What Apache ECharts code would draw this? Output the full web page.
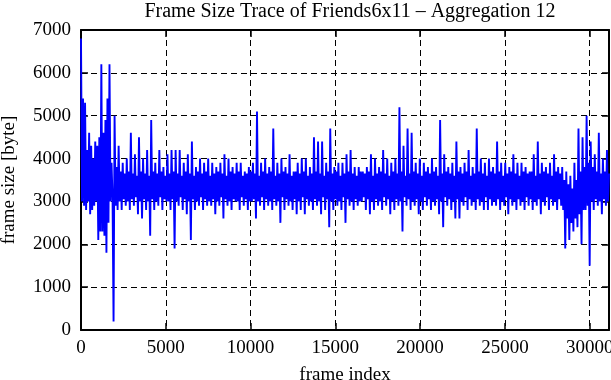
<!DOCTYPE html>
<html>
<head>
<meta charset="utf-8">
<script src="https://cdn.jsdelivr.net/npm/echarts@6/dist/echarts.min.js"></script>
<style>
  html, body { margin: 0; padding: 0; background: #fff; }
  #main { width: 611px; height: 380px; }
</style>
</head>
<body>
<div id="main"></div>
<script>
// frame index step between consecutive samples (about one pixel column of the trace)
const frameStep = 60;

// frame sizes [byte] (4 columns per row group)
const frameSizes = [
  6800,3000,5400,2900, 5300,2800,4200,3000, 4600,2700,4300,2800, 4000,2900,4400,3000, 4300,2100,4500,2300,
  6200,2300,4600,2200, 4900,1800,5400,2500, 6200,3000,3900,3100, 200,5000,2900,3800, 2800,4300,3000,3700,
  2800,3900,3050,3650, 2900,4000,3000,3700, 2800,4600,3050,3650, 2900,4100,3100,3600, 2700,4500,3000,3700,
  2600,4000,3050,3650, 2800,4200,3000,3600, 2200,4900,3050,3700, 2800,3900,3000,3650, 2900,4200,3100,3700,
  2800,3800,3050,3600, 3000,4100,3000,3650, 2800,4200,3050,3700, 1900,4200,3000,3650, 2900,4200,3100,3600,
  2800,3900,3050,3700, 2700,4100,3000,3650, 2100,4400,3050,3600, 2800,3800,3000,3700, 2900,4000,3100,3650,
  2800,3900,3050,3700, 2900,4000,3000,3600, 2900,3900,3050,3650, 2700,3800,3000,3700, 2900,3900,3100,3650,
  2600,4100,3050,3600, 2900,4000,3000,3700, 2800,3800,3050,3650, 3000,3900,3000,3700, 2800,3900,3100,3600,
  2900,3700,3050,3650, 2800,3800,3000,3700, 3000,3900,3050,3650, 2600,5100,3000,3600, 2900,3900,3100,3700,
  2800,4000,3050,3650, 2900,3800,3000,3700, 2800,4700,3050,3600, 2900,3900,3000,3650, 2500,4000,3100,3700,
  2800,3800,3050,3650, 2900,4100,3000,3600, 2800,3700,3050,3700, 2700,3900,3000,3650, 2800,4000,3100,3700,
  2700,4000,3050,3600, 2900,3800,3000,3650, 2800,4500,3050,3700, 2900,4400,3000,3650, 2700,4400,3100,3600,
  2800,3900,3050,3700, 2400,4700,3000,3650, 2800,3800,3050,3700, 2900,3900,3000,3600, 2800,3900,3100,3650,
  2500,4100,3050,3700, 2900,4200,3000,3650, 2800,3800,3050,3600, 2900,3800,3000,3700, 3000,3700,3100,3650,
  2800,3800,3050,3700, 2700,4100,3000,3600, 2800,4000,3050,3650, 2900,3800,3000,3700, 2800,4200,3100,3650,
  2900,4000,3050,3600, 2700,3900,3000,3700, 2800,4000,3050,3650, 2900,5200,3000,3700, 2300,4300,3100,3600,
  2900,4700,3050,3650, 2800,4600,3000,3700, 2900,3900,3050,3650, 2700,4000,3000,3600, 2800,3900,3100,3700,
  2900,3800,3050,3650, 2800,4000,3000,3700, 2900,3800,3050,3600, 2700,4900,3000,3650, 2400,4100,3100,3700,
  2900,3800,3050,3650, 2800,3900,3000,3600, 2600,4400,3050,3700, 2600,3800,3000,3650, 2900,3900,3100,3700,
  2800,4200,3050,3600, 2900,3800,3000,3650, 2800,4700,3050,3700, 2900,4000,3000,3650, 2800,3900,3100,3600,
  2800,4000,3050,3700, 2900,3800,3000,3650, 2900,4400,3050,3700, 2800,3900,3000,3600, 2900,3900,3100,3650,
  2700,3800,3050,3700, 2900,4100,3000,3650, 2800,3900,3050,3600, 2900,3900,3000,3700, 2800,3800,3100,3650,
  2900,3700,3050,3700, 2800,4100,3000,3600, 2900,4400,3050,3650, 2700,3900,3000,3700, 2900,3800,3100,3650,
  2800,3900,3050,3600, 2900,4100,3000,3700, 2800,3800,3050,3650, 2900,3800,2800,3500, 1900,3700,2600,3400,
  2100,3600,2500,3300, 2300,3900,2600,3500, 2400,4700,2700,3700, 2000,4500,2800,3800, 2800,5000,2900,3900,
  1500,4400,3000,3800, 2800,4100,3050,3700, 2900,4600,3000,3650, 2700,4000,3050,3700, 2900,4200,3000,3650
];

const xTicks = [0, 5000, 10000, 15000, 20000, 25000, 30000];
const yTicks = [0, 1000, 2000, 3000, 4000, 5000, 6000, 7000];
const xMax = (frameSizes.length - 1) * frameStep;

const traceData = frameSizes.map((v, i) => [i * frameStep, v]);

var chartDom = document.getElementById('main');
var myChart = echarts.init(chartDom, null, { renderer: 'canvas' });

const FONT = 'Liberation Serif';
const gridDash = { color: '#000', width: 1, type: [6, 4] };
const plainNumber = v => String(v);

function frameAxis(extra) {
  return Object.assign({
    type: 'value',
    min: xTicks[0],
    max: xMax,
    interval: xTicks[1] - xTicks[0],
    axisLine: { show: true, onZero: false, lineStyle: { color: '#000', width: 2 } },
    axisTick: { show: true, inside: true, length: 7, lineStyle: { color: '#000', width: 1.5 } },
    splitLine: { show: false }
  }, extra);
}

function sizeAxis(extra) {
  return Object.assign({
    type: 'value',
    min: yTicks[0],
    max: yTicks[yTicks.length - 1],
    interval: yTicks[1] - yTicks[0],
    axisLine: { show: true, onZero: false, lineStyle: { color: '#000', width: 2 } },
    axisTick: { show: true, inside: true, length: 7, lineStyle: { color: '#000', width: 1.5 } },
    splitLine: { show: false }
  }, extra);
}

var option = {
  animation: false,
  backgroundColor: '#fff',
  title: {
    text: 'Frame Size Trace of Friends6x11 \u2013 Aggregation 12',
    left: 345,
    textAlign: 'center',
    top: -3,
    textStyle: { fontFamily: FONT, fontSize: 20, fontWeight: 'normal', color: '#000' }
  },
  grid: { left: 81, right: 2, top: 30, bottom: 50, containLabel: false, outerBoundsMode: 'none' },
  xAxis: [
    frameAxis({
      position: 'bottom',
      name: 'frame index',
      nameLocation: 'middle',
      nameGap: 36,
      nameTextStyle: { fontFamily: FONT, fontSize: 19, color: '#000' },
      axisLabel: { fontFamily: FONT, fontSize: 19, color: '#000', margin: 9, formatter: plainNumber },
      splitLine: { show: true, lineStyle: gridDash }
    }),
    frameAxis({ position: 'top', axisLabel: { show: false } })
  ],
  yAxis: [
    sizeAxis({
      position: 'left',
      name: 'frame size [byte]',
      nameLocation: 'middle',
      nameGap: 62,
      nameRotate: 90,
      nameTextStyle: { fontFamily: FONT, fontSize: 19, color: '#000' },
      axisLabel: {
        fontFamily: FONT, fontSize: 19, color: '#000', margin: 10,
        formatter: plainNumber, padding: [5, 0, 0, 0]
      },
      splitLine: { show: true, lineStyle: gridDash }
    }),
    sizeAxis({ position: 'right', axisLabel: { show: false } })
  ],
  series: [
    {
      name: 'frame size',
      type: 'line',
      data: traceData,
      xAxisIndex: 0,
      yAxisIndex: 0,
      showSymbol: false,
      symbol: 'none',
      lineStyle: { color: '#0000ff', width: 1.9 },
      clip: true,
      z: 1
    }
  ]
};

option && myChart.setOption(option);
</script>
</body>
</html>
